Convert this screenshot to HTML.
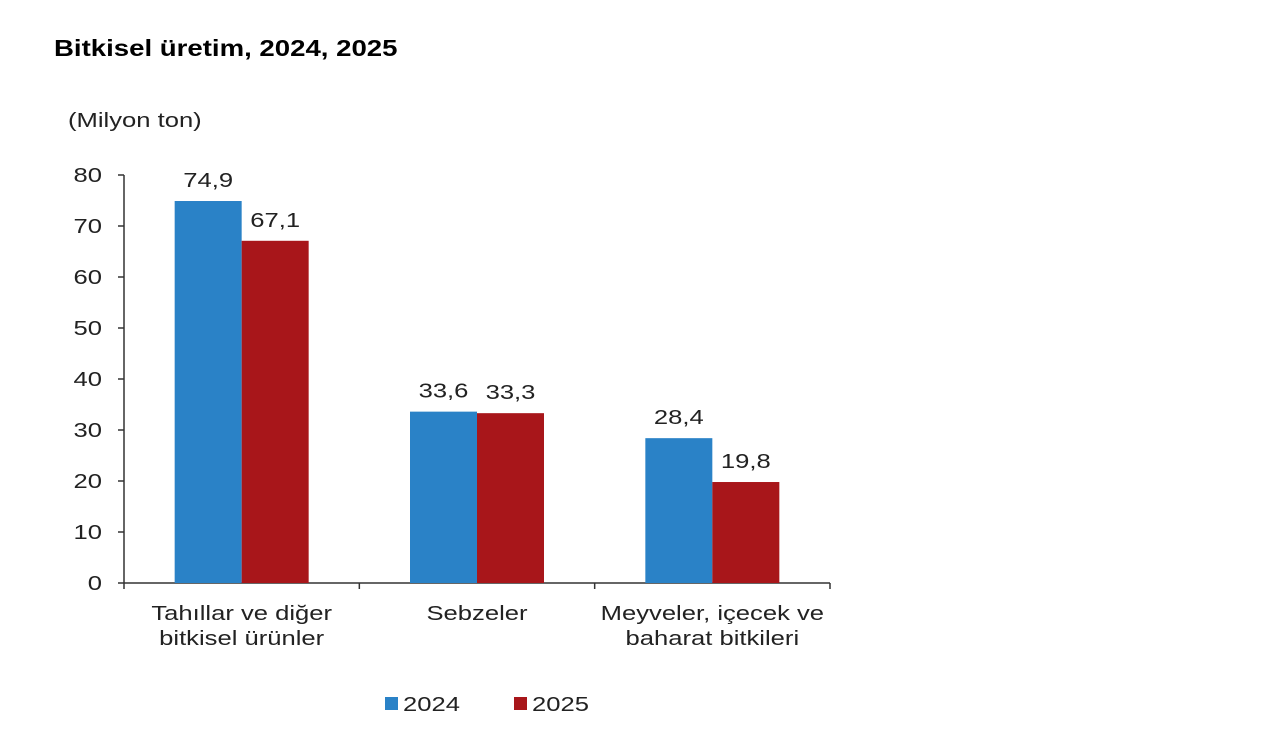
<!DOCTYPE html>
<html><head><meta charset="utf-8"><style>
body{margin:0;background:#fff;width:1280px;height:731px;overflow:hidden;font-family:"Liberation Sans",Arial,sans-serif}
svg text{font-family:"Liberation Sans",Arial,sans-serif}
</style></head><body>
<svg id="c" width="1280" height="731">
<text transform="translate(54,56) scale(1.2,1)" font-size="23" font-weight="bold" fill="#000">Bitkisel üretim, 2024, 2025</text>
<text transform="translate(68,127) scale(1.28,1)" font-size="20" fill="#222">(Milyon ton)</text>
<g id="g"></g>
</svg>
<script>
const categories=[["Tahıllar ve diğer","bitkisel ürünler"],["Sebzeler"],["Meyveler, içecek ve","baharat  bitkileri"]];
const series2024=[74.9,33.6,28.4];
const series2025=[67.1,33.3,19.8];
const labels2024=["74,9","33,6","28,4"];
const labels2025=["67,1","33,3","19,8"];
const yTicks=[0,10,20,30,40,50,60,70,80];
const seriesNames=["2024","2025"];
const colors=["#2a82c7","#a8161a"];
const NS="http://www.w3.org/2000/svg",g=document.getElementById('g');
const x0=124,x1=830,y0=583,yTop=175,yMax=80;
const y=v=>y0-(v/yMax)*(y0-yTop);
const cw=(x1-x0)/categories.length;
const SX=1.28;
function el(t,a,txt){const e=document.createElementNS(NS,t);for(const k in a)e.setAttribute(k,a[k]);if(txt!==undefined)e.textContent=txt;g.appendChild(e);return e;}
function tx(x,yy,s,anchor){return el('text',{transform:`translate(${x},${yy}) scale(${SX},1)`,'font-size':20,'text-anchor':anchor,fill:'#222'},s);}
let e=el('line',{x1:x0,y1:yTop,x2:x0,y2:y0,stroke:'#333','stroke-width':1.5});


e=el('line',{x1:x0,y1:y0,x2:x1,y2:y0,stroke:'#333','stroke-width':1.5});


yTicks.forEach(t=>{
 let l=el('line',{x1:x0-6,y1:y(t),x2:x0,y2:y(t),stroke:'#333','stroke-width':1.5});
 
 
 let t2=tx(102,y(t)+7,String(t),'end');
 
 
});
for(let i=0;i<=categories.length;i++){
 let l=el('line',{x1:x0+i*cw,y1:y0,x2:x0+i*cw,y2:y0+6,stroke:'#333','stroke-width':1.5});
 
 
}
const bw=67;
categories.forEach((c,i)=>{
 const cx=x0+cw*(i+0.5);
 [series2024,series2025].forEach((s,j)=>{
  const bx=cx-bw+j*bw;
  let r=el('rect',{x:bx,y:y(s[i]),width:bw,height:y0-y(s[i]),fill:colors[j]});
  
  
  let t=tx(bx+bw/2,y(s[i])-14,(j?labels2025:labels2024)[i],'middle');
  
  
 });
 c.forEach((line,k)=>{
  let t=tx(cx,620+k*25,line,'middle');
  
  
 });
});
seriesNames.forEach((n,j)=>{
 const lx=385+j*129;
 let r=el('rect',{x:lx,y:697,width:13,height:13,fill:colors[j]});
 
 
 let t=tx(lx+18,711,n,'start');
 
 
});
</script>
</body></html>
